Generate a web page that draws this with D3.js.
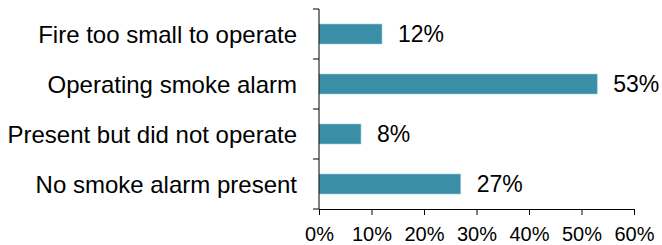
<!DOCTYPE html>
<html><head><meta charset="utf-8">
<script src="https://cdn.jsdelivr.net/npm/d3@7"></script>
<style>body{margin:0;background:#fff}svg{display:block}text{font-family:"Liberation Sans",Arial,sans-serif;fill:#000}</style>
</head><body><svg id="c" width="662" height="245"></svg>
<script>
const categories = ["Fire too small to operate","Operating smoke alarm","Present but did not operate","No smoke alarm present"];
const values = [12, 53, 8, 27];
const xTicks = [0,10,20,30,40,50,60];

const svg = d3.select("#c");
const m = {left:319, right:28, top:9, bottom:36};
const W = 662, H = 245;
const x = d3.scaleLinear().domain([0,60]).range([m.left, W - m.right]);
const y = d3.scaleBand().domain(categories).range([m.top, H - m.bottom]).paddingInner(0.6).paddingOuter(0.3);
const cfs = 24, fs = 23, tfs = 20;

// bars
svg.selectAll("rect.bar").data(values).join("rect")
  .attr("x", x(0)).attr("y", (d,i)=>y(categories[i]))
  .attr("width", d=>x(d)-x(0)).attr("height", y.bandwidth())
  .attr("fill","#3a8fa6").attr("stroke","#9fd0dc").attr("stroke-width",0.6);

// value labels
svg.selectAll("text.val").data(values).join("text")
  .attr("x", d=>x(d)+16).attr("y",(d,i)=>y(categories[i])+y.bandwidth()/2)
  .attr("dy","0.36em").attr("font-size",fs).text(d=>d+"%");

// y axis
const yTop = m.top, yBot = H - m.bottom;
svg.append("line").attr("x1",x(0)).attr("x2",x(0)).attr("y1",yTop).attr("y2",yBot).attr("stroke","#000");
const bounds = d3.range(categories.length+1).map(i=>yTop + i*(yBot-yTop)/categories.length);
svg.selectAll("line.yt").data(bounds).join("line")
  .attr("x1",x(0)-6).attr("x2",x(0)).attr("y1",d=>d).attr("y2",d=>d).attr("stroke","#000");
svg.selectAll("text.cat").data(categories).join("text")
  .attr("x", x(0)-22).attr("y", d=>y(d)+y.bandwidth()/2).attr("dy","0.36em")
  .attr("text-anchor","end").attr("font-size",cfs).text(d=>d);

// x axis
const xa = svg.append("g").attr("transform",`translate(0,${yBot})`)
  .call(d3.axisBottom(x).tickValues(xTicks).tickFormat(d=>d+"%").tickSize(6).tickSizeOuter(0));
xa.select(".domain").attr("stroke","#000");
xa.selectAll(".tick line").attr("stroke","#000");
xa.selectAll(".tick text").attr("font-size",tfs).attr("font-family","Liberation Sans, Arial, sans-serif").attr("fill","#000").attr("y",32).attr("dy",0);
</script></body></html>
